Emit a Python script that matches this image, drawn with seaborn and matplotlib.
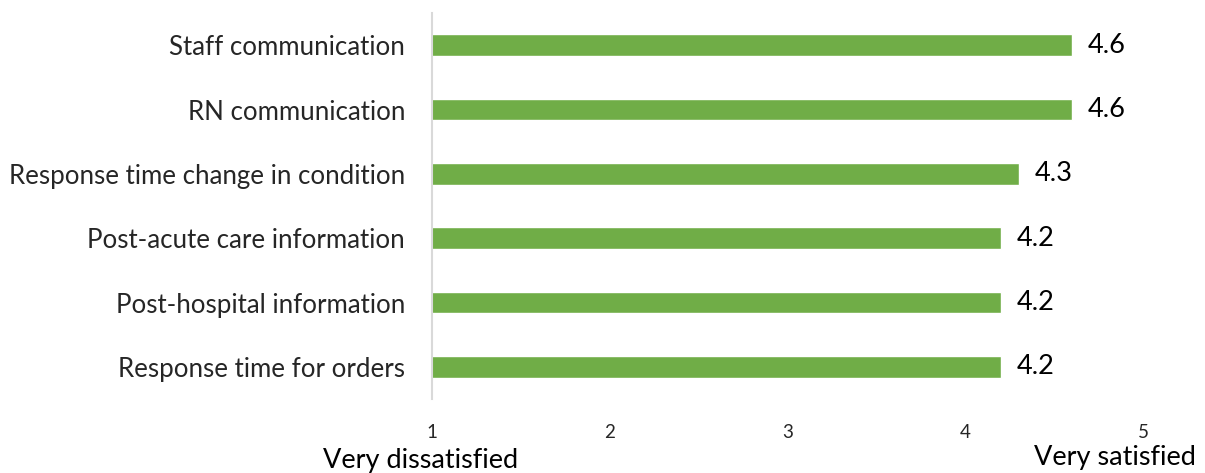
import matplotlib
matplotlib.use("Agg")
import matplotlib.pyplot as plt
import matplotlib.transforms as mtransforms
import seaborn as sns
import pandas as pd

categories = [
    "Staff communication",
    "RN communication",
    "Response time change in condition",
    "Post-acute care information",
    "Post-hospital information",
    "Response time for orders",
]
scores = [4.6, 4.6, 4.3, 4.2, 4.2, 4.2]
tick_values = [1, 2, 3, 4, 5]
tick_labels = ["1", "2", "3", "4", "5"]
end_labels = ["Very dissatisfied", "Very satisfied"]

sns.set_style("white")
plt.rcParams["font.family"] = ["Lato", "DejaVu Sans"]

df = pd.DataFrame({"category": categories, "score": scores})

fig = plt.figure(figsize=(12.05, 4.73), dpi=100)
ax = fig.add_axes([0.3585, 0.1564, 0.9486 - 0.3585, 0.9725 - 0.1564])

sns.barplot(data=df, x="score", y="category", orient="h", color="#70AD47",
            saturation=1, width=0.34, ax=ax)

ax.set_xlim(1, 5)
ax.set_ylim(len(categories) - 0.5, -0.5)
ax.set_xticks(tick_values)
ax.set_xticklabels(tick_labels, fontsize=13.5)
ax.tick_params(axis="x", length=0, pad=18)
ax.tick_params(axis="y", length=0, pad=19.5, labelsize=18.6)
ax.set_xlabel("")
ax.set_ylabel("")
for s in ["top", "right", "bottom"]:
    ax.spines[s].set_visible(False)
ax.spines["left"].set_color("#D9D9D9")
ax.spines["left"].set_linewidth(1.5)

for i, v in enumerate(scores):
    ax.text(v + 0.09, i, f"{v:.1f}", va="center", ha="left", fontsize=19.5, color="#000000")

trans = mtransforms.blended_transform_factory(ax.transData, fig.transFigure)
ax.text(0.938, 1 - 460 / 473, end_labels[0], transform=trans, ha="center", va="center",
        fontsize=19.5, color="#000000")
ax.text(4.843, 1 - 457 / 473, end_labels[1], transform=trans, ha="center", va="center",
        fontsize=19.5, color="#000000")

fig.savefig("out.png", dpi=100)
